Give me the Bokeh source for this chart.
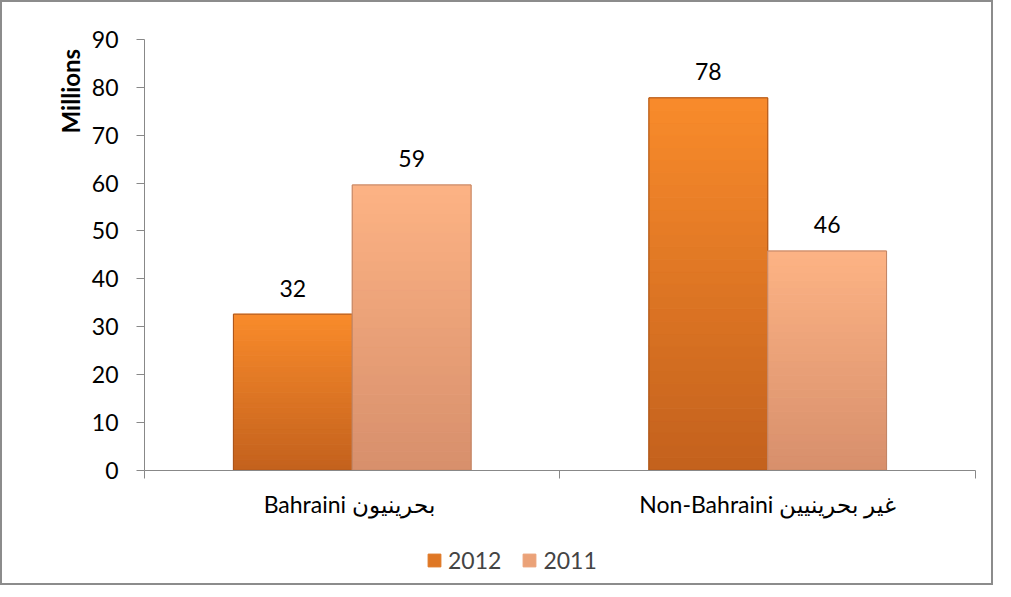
import numpy as np
from bokeh.plotting import figure
from bokeh.models import (Range1d, LinearAxis, FixedTicker, Label,
                          Legend, LegendItem, ColumnDataSource)
from bokeh.core.properties import value
from bokeh.embed import file_html
from bokeh.resources import INLINE

# ---- data ----
categories = ["Bahraini  بحرينيون", "Non-Bahraini غير بحرينيين"]
years = ["2012", "2011"]
values_2012 = [32.6, 77.8]
values_2011 = [59.6, 45.8]
labels_2012 = ["32", "78"]
labels_2011 = ["59", "46"]
y_ticks = [0, 10, 20, 30, 40, 50, 60, 70, 80, 90]
y_title = "Millions"

FONT = "Lato"
AXIS = "#888888"
FS = "23px"

ncat = len(categories)
centers = [i + 0.5 for i in range(ncat)]
YMAX = y_ticks[-1]

# frame spans the whole chart box; axes are pinned at 0
p = figure(width=993, height=585,
           x_range=Range1d(-0.3418, ncat + 0.0482), y_range=Range1d(-24.51, 97.72),
           output_backend="svg", toolbar_location=None,
           x_axis_location=None, y_axis_location=None, min_border=0,
           styles={"border": "2px solid #8c8c8c"})
p.outline_line_color = None
p.xgrid.visible = False
p.ygrid.visible = False
p.background_fill_color = "white"
p.border_fill_color = "white"

ya = LinearAxis(fixed_location=0, bounds=(0, YMAX), ticker=FixedTicker(ticks=y_ticks),
                major_tick_in=0, major_tick_out=8, minor_tick_line_color=None,
                axis_line_color=AXIS, major_tick_line_color=AXIS,
                major_label_text_font=FONT, major_label_text_font_size=FS,
                major_label_text_color="black", major_label_standoff=18)
p.add_layout(ya, "left")

edge_axis = LinearAxis(fixed_location=0, bounds=(0, ncat),
                       ticker=FixedTicker(ticks=list(range(ncat + 1))),
                       major_label_text_font_size="0px", major_label_standoff=0,
                       major_tick_in=0, major_tick_out=8, minor_tick_line_color=None,
                       axis_line_color=AXIS, major_tick_line_color=AXIS)
p.add_layout(edge_axis, "below")
cat_axis = LinearAxis(fixed_location=0, bounds=(0, ncat), ticker=FixedTicker(ticks=centers),
                      major_label_overrides={c: lab for c, lab in zip(centers, categories)},
                      major_tick_line_color=None, axis_line_color=None,
                      minor_tick_line_color=None,
                      major_label_text_font=FONT, major_label_text_font_size=FS,
                      major_label_text_color="black", major_label_standoff=14)
p.add_layout(cat_axis, "below")

# bars with vertical gradient
N = 30
W = 0.286
OFF = 0.143


def hex2rgb(h):
    h = h.lstrip("#")
    return np.array([int(h[i:i + 2], 16) for i in (0, 2, 4)], dtype=float)


def grad_source(xpos, vals, c_top, c_bot):
    t, b = hex2rgb(c_top), hex2rgb(c_bot)
    xs, bots, tops, cols = [], [], [], []
    for x, v in zip(xpos, vals):
        for k in range(N):
            f = (k + 0.5) / N
            c = b + (t - b) * f
            xs.append(x)
            bots.append(v * k / N)
            tops.append(v * (k + 1) / N)
            cols.append("#%02x%02x%02x" % tuple(int(round(q)) for q in c))
    return ColumnDataSource(dict(x=xs, bottom=bots, top=tops, color=cols))


series = [
    ("2012", values_2012, labels_2012, -OFF, "#f98b2b", "#c3611d", "#a9541a"),
    ("2011", values_2011, labels_2011, OFF, "#fdb384", "#d78f6c", "#c08566"),
]
items = []
for name, vals, labs, off, ctop, cbot, edge in series:
    xpos = [c + off for c in centers]
    src = grad_source(xpos, vals, ctop, cbot)
    r = p.vbar(x="x", bottom="bottom", top="top", width=W,
               fill_color="color", line_color="color", line_width=1, source=src)
    bsrc = ColumnDataSource(dict(x=xpos, top=vals, lab=labs))
    p.vbar(x="x", top="top", width=W, source=bsrc,
           fill_color=None, line_color=edge, line_width=1)
    p.text(x="x", y="top", text="lab", source=bsrc,
           text_align="center", text_baseline="alphabetic", y_offset=-26,
           text_font=value(FONT), text_font_size=FS, text_color="black")
    items.append(LegendItem(label=name, renderers=[r], index=N // 2))

legend = Legend(items=items, orientation="horizontal", location=(424, 13),
                glyph_width=16, glyph_height=16, label_standoff=6, spacing=20,
                padding=0, margin=0, border_line_color=None, background_fill_alpha=0,
                label_text_font=FONT, label_text_font_size=FS, label_height=16)
p.add_layout(legend, "center")

p.add_layout(Label(x=0, y=79.2, x_offset=-74, text=y_title, angle=np.pi / 2,
                   text_align="center", text_baseline="middle",
                   text_font=FONT, text_font_style="bold", text_font_size="24px",
                   text_color="black"))

open("out.html", "w").write(file_html(p, INLINE))
